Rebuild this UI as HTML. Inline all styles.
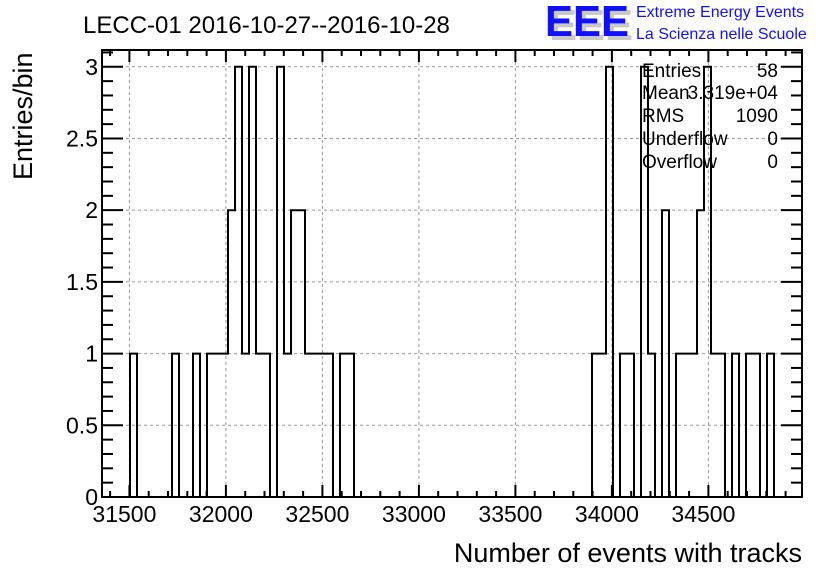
<!DOCTYPE html>
<html><head><meta charset="utf-8">
<style>
body{margin:0;background:#fff;}
svg{display:block;font-family:"Liberation Sans",Arial,sans-serif;}
</style></head>
<body>
<svg id="chart" width="836" height="572" viewBox="0 0 836 572" xmlns="http://www.w3.org/2000/svg">
<rect width="836" height="572" fill="#fff"/>
<g id="grid"></g>
<g id="ticks"></g>
<path id="hist" fill="none" stroke="#000" stroke-width="2"/>
<rect x="102" y="50" width="700" height="447" fill="none" stroke="#000" stroke-width="2"/>
<g id="labels" font-size="23"></g>
<text x="83" y="33" font-size="24">LECC-01 2016-10-27--2016-10-28</text>
<text x="802" y="562" font-size="27" text-anchor="end">Number of events with tracks</text>
<text transform="translate(32,180) rotate(-90)" font-size="27">Entries/bin</text>
<g>
<text x="549" y="40" font-size="44" font-weight="bold" fill="#c8c8c8" textLength="84" lengthAdjust="spacingAndGlyphs">EEE</text>
<text x="545" y="36" font-size="44" font-weight="bold" fill="#1010ff" textLength="84" lengthAdjust="spacingAndGlyphs">EEE</text>
<text x="636" y="17" font-size="16" fill="#1010ff">Extreme Energy Events</text>
<text x="636" y="39" font-size="16" fill="#1010ff">La Scienza nelle Scuole</text>
</g>
<g font-size="19">
<text x="642" y="77">Entries</text><text x="778" y="77" text-anchor="end">58</text>
<text x="642" y="99">Mean</text><text x="778" y="99" text-anchor="end">3.319e+04</text>
<text x="642" y="122">RMS</text><text x="778" y="122" text-anchor="end">1090</text>
<text x="642" y="145">Underflow</text><text x="778" y="145" text-anchor="end">0</text>
<text x="642" y="168">Overflow</text><text x="778" y="168" text-anchor="end">0</text>
</g>
</svg>
<script>
const binIndex = [4,10,13,15,16,17,18,19,20,21,22,23,25,26,27,28,29,30,31,32,34,35,70,71,72,74,75,77,78,80,82,83,84,85,86,87,88,90,92,93,95];
const binCount = [1,1,1,1,1,1,2,3,1,3,1,1,3,1,2,2,1,1,1,1,1,1,1,1,3,1,1,3,1,2,1,1,1,2,3,1,1,1,1,1,1];
const xTickLabels = [31500,32000,32500,33000,33500,34000,34500];
const yTickLabels = [0,0.5,1,1.5,2,2.5,3];
const xMin = 31358, xMax = 34985, nBins = 100, yMin = 0, yMax = 3.117;
const L=102,R=802,T=50,B=497;
const sx = v => L + (v - xMin) / (xMax - xMin) * (R - L);
const sy = v => B - (v - yMin) / (yMax - yMin) * (B - T);
const bw = (xMax - xMin) / nBins;
const NS="http://www.w3.org/2000/svg";
function mk(tag, attrs, parent){const e=document.createElementNS(NS,tag);for(const k in attrs)e.setAttribute(k,attrs[k]);parent.appendChild(e);return e;}
const grid=document.getElementById('grid'), ticks=document.getElementById('ticks'), labels=document.getElementById('labels');
const counts=new Array(nBins).fill(0);
binIndex.forEach((b,i)=>counts[b]=binCount[i]);
let d="M"+L+","+B;
for(let i=0;i<nBins;i++){const x0=sx(xMin+i*bw),x1=sx(xMin+(i+1)*bw),y=sy(counts[i]);d+=" L"+x0.toFixed(2)+","+y.toFixed(2)+" L"+x1.toFixed(2)+","+y.toFixed(2);}
d+=" L"+R+","+B;
document.getElementById('hist').setAttribute('d',d);
xTickLabels.forEach(v=>{const x=sx(v);
 const g=mk('line',{x1:x,x2:x,y1:T,y2:B,stroke:'#999','stroke-dasharray':'3,3','stroke-width':1},grid);
 
 
 const t=mk('text',{x:x-5,y:522,'text-anchor':'middle'},labels);
 
 
 t.textContent=v;
});
for(let v=31400;v<=34900;v+=100){const x=sx(v);const major=v%500===0;const len=major?12:6;
 mk('line',{x1:x,x2:x,y1:B,y2:B-len,stroke:'#000','stroke-width':2},ticks);
 mk('line',{x1:x,x2:x,y1:T,y2:T+len,stroke:'#000','stroke-width':2},ticks);}
yTickLabels.forEach(v=>{const y=sy(v);
 if(v>0){const g=mk('line',{x1:L,x2:R,y1:y,y2:y,stroke:'#999','stroke-dasharray':'3,3','stroke-width':1},grid);
 
 }
 const t=mk('text',{x:98,y:y+8,'text-anchor':'end'},labels);
 
 
 t.textContent=v;
});
for(let k=0;k<=31;k++){const v=k*0.1;const y=sy(v);const major=k%5===0;const len=major?21:11;
 mk('line',{x1:L,x2:L+len,y1:y,y2:y,stroke:'#000','stroke-width':2},ticks);
 mk('line',{x1:R,x2:R-len,y1:y,y2:y,stroke:'#000','stroke-width':2},ticks);}
</script>
</body></html>
